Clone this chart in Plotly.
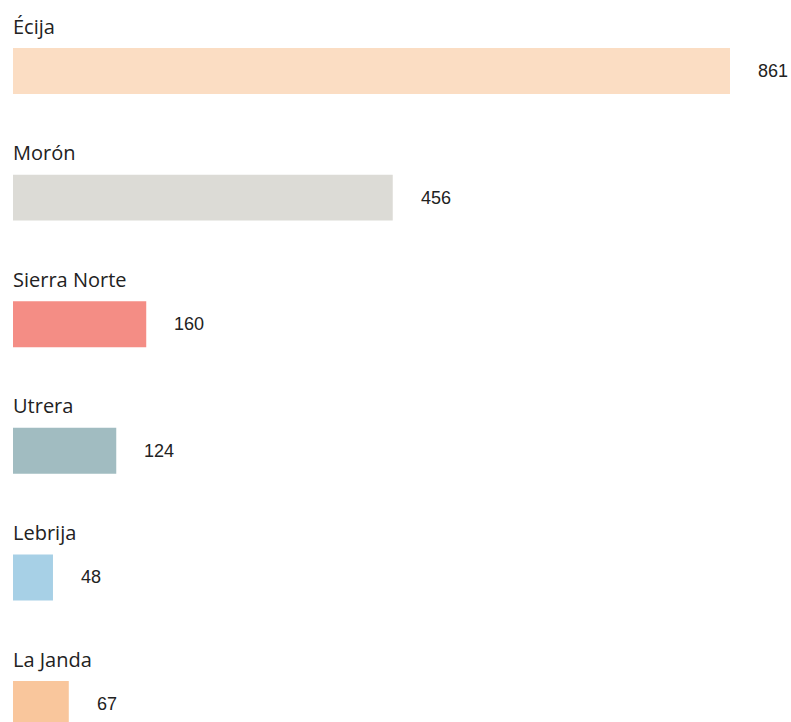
import plotly.graph_objects as go

categories = ["Écija", "Morón", "Sierra Norte", "Utrera", "Lebrija", "La Janda"]
values = [861, 456, 160, 124, 48, 67]
colors = ["#FBDDC3", "#DCDBD6", "#F48D85", "#A1BCC1", "#A7D0E6", "#F9C69C"]

pos = list(range(len(categories)))

fig = go.Figure()
fig.add_trace(go.Bar(
    x=values, y=pos, orientation="h",
    marker=dict(color=colors, line=dict(width=0)),
    width=0.363, hoverinfo="skip", showlegend=False,
))

annotations = []
for i, (c, v) in enumerate(zip(categories, values)):
    annotations.append(dict(
        x=0, y=i, xref="x", yref="y", text=c, showarrow=False,
        xanchor="left", yanchor="middle", yshift=45, xshift=-2,
        font=dict(family="Open Sans, Noto Sans, sans-serif", size=20, color="#222222"),
    ))
    annotations.append(dict(
        x=v, y=i, xref="x", yref="y", text=str(v), showarrow=False,
        xanchor="left", yanchor="middle", xshift=26,
        font=dict(family="Liberation Sans, Arial, sans-serif", size=18, color="#222222"),
    ))

fig.update_layout(
    width=791, height=722,
    margin=dict(l=13, r=61, t=0, b=0),
    paper_bgcolor="white", plot_bgcolor="white",
    xaxis=dict(range=[0, 861], visible=False, fixedrange=True),
    yaxis=dict(range=[5.142, -0.561], visible=False, fixedrange=True),
    annotations=annotations,
)

fig.write_html(
    "out.html",
    config={"displayModeBar": False},
    post_script="document.body.style.margin='0';document.body.style.overflow='hidden';",
)
